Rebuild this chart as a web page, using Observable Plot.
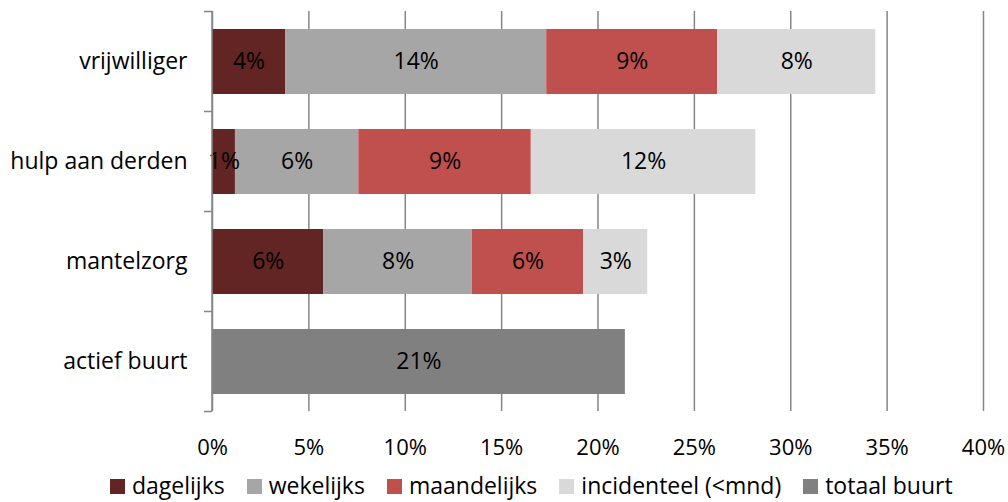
<!DOCTYPE html>
<html>
<head>
<meta charset="utf-8">
<script src="https://cdn.jsdelivr.net/npm/d3@7"></script>
<script src="https://cdn.jsdelivr.net/npm/@observablehq/plot@0.6"></script>
<style>
  body { margin: 0; background: #fff; }
  #wrap { position: relative; width: 1008px; height: 502px; font-family: "Open Sans", sans-serif; overflow: hidden; }
  #legend { position: absolute; left: 110px; top: 473px; height: 24px; line-height: 24px; display: flex; align-items: center; font-size: 23px; color: #000; white-space: nowrap; }
  #legend .item { display: flex; align-items: center; margin-right: 22px; height: 24px; }
  #legend .sw { width: 15px; height: 15px; margin-right: 7px; margin-top: 3px; }
  #legend span { line-height: 24px; display: inline-block; height: 24px; }
</style>
</head>
<body>
<div id="wrap"><div id="chart"></div><div id="legend"></div></div>
<script>
const categories = ["vrijwilliger", "hulp aan derden", "mantelzorg", "actief buurt"];
const seriesNames = ["dagelijks", "wekelijks", "maandelijks", "incidenteel (<mnd)", "totaal buurt"];
const seriesColors = ["#632523", "#A6A6A6", "#C0504D", "#D9D9D9", "#808080"];
const dagelijks   = [3.79, 1.19, 5.78, null];
const wekelijks   = [13.55, 6.4, 7.7, null];
const maandelijks = [8.87, 8.95, 5.78, null];
const incidenteel = [8.2, 11.65, 3.32, null];
const totaalBuurt = [null, null, null, 21.42];
const xTicks = [0, 5, 10, 15, 20, 25, 30, 35, 40];

const seriesValues = [dagelijks, wekelijks, maandelijks, incidenteel, totaalBuurt];
const rows = [];
categories.forEach((cat, i) => {
  seriesNames.forEach((s, j) => {
    const v = seriesValues[j][i];
    if (v != null) rows.push({cat, series: s, value: v});
  });
});

function bandTicks(index, scales, values, dimensions) {
  const y = scales.y, x = scales.x;
  const step = typeof y.step === "function" ? y.step() : (y(categories[1]) - y(categories[0]));
  const bw = typeof y.bandwidth === "function" ? y.bandwidth() : step * 0.65;
  const off = (step - bw) / 2;
  const x0 = x(0);
  const g = d3.create("svg:g").attr("stroke", "#868686").attr("stroke-width", 1.5);
  const bounds = categories.map(c => y(c) - off);
  bounds.push(y(categories[categories.length - 1]) + bw + off);
  bounds.forEach(b => {
    g.append("line").attr("x1", x0 - 8).attr("x2", x0).attr("y1", b).attr("y2", b);
  });
  g.append("line").attr("x1", x0).attr("x2", x0).attr("y1", bounds[0]).attr("y2", bounds[bounds.length - 1]);
  return g.node();
}

const chart = Plot.plot({
  width: 1008,
  height: 473,
  marginLeft: 212,
  marginRight: 25,
  marginTop: 11,
  marginBottom: 62,
  style: {fontFamily: "Open Sans, sans-serif", fontSize: "22px", color: "#000", background: "#fff", overflow: "visible"},
  x: {domain: [0, 40], label: null},
  y: {domain: categories, paddingInner: 0.35, paddingOuter: 0.175, label: null},
  color: {domain: seriesNames, range: seriesColors},
  marks: [
    Plot.ruleX(xTicks, {x: d => d, stroke: "#868686", strokeWidth: 1.5}),
    Plot.barX(rows, Plot.stackX({x: "value", y: "cat", fill: "series", order: seriesNames})),
    Plot.text(rows, Plot.stackX({x: "value", y: "cat", z: "series", order: seriesNames,
      text: d => Math.round(d.value) + "%", fill: "#000", fontSize: 23})),
    Plot.axisX({ticks: xTicks, tickSize: 0, tickPadding: 28, tickFormat: d => d + "%", fontSize: 22, fill: "#000", label: null}),
    Plot.axisY({tickSize: 0, tickPadding: 25, fontSize: 23, fill: "#000", label: null}),
    bandTicks
  ]
});
document.getElementById("chart").appendChild(chart);

const legend = document.getElementById("legend");
seriesNames.forEach((s, i) => {
  const item = document.createElement("div");
  item.className = "item";
  const sw = document.createElement("div");
  sw.className = "sw";
  sw.style.background = seriesColors[i];
  const t = document.createElement("span");
  t.textContent = s;
  item.appendChild(sw);
  item.appendChild(t);
  legend.appendChild(item);
});
</script>
</body>
</html>
